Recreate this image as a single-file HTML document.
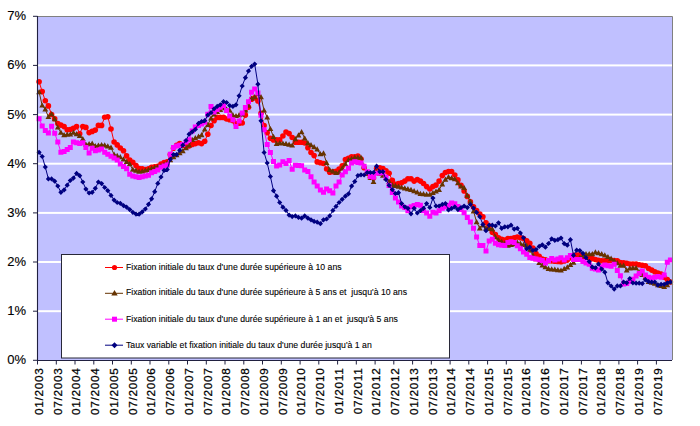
<!DOCTYPE html>
<html><head><meta charset="utf-8"><style>
html,body{margin:0;padding:0;background:#fff;width:700px;height:426px;overflow:hidden}
svg{display:block}
text{white-space:pre}
</style></head><body>
<svg width="700" height="426" viewBox="0 0 700 426">
<rect x="37" y="16" width="635" height="344.5" fill="#C0C0FF"/>
<rect x="37.5" y="310.2" width="634.5" height="2" fill="#fff"/><rect x="37.5" y="261.0" width="634.5" height="2" fill="#fff"/><rect x="37.5" y="211.9" width="634.5" height="2" fill="#fff"/><rect x="37.5" y="162.7" width="634.5" height="2" fill="#fff"/><rect x="37.5" y="113.6" width="634.5" height="2" fill="#fff"/><rect x="37.5" y="64.4" width="634.5" height="2" fill="#fff"/>
<g fill="none" stroke-width="1" shape-rendering="auto">
<polyline points="39.1,81.8 42.2,91.6 45.3,100.7 48.4,105.9 51.6,114.5 54.7,118.8 57.8,123.5 60.9,125.1 64.1,126.6 67.2,129.8 70.3,129.5 73.4,128.2 76.6,126.6 79.7,133.7 82.8,126.6 85.9,127.4 89.1,132.6 92.2,131.4 95.3,130.1 98.4,125.4 101.6,125.4 104.7,117.2 107.8,116.7 111.0,129.0 114.1,142.0 117.2,144.9 120.3,148.0 123.5,150.7 126.6,155.9 129.7,160.1 132.8,162.2 136.0,165.6 139.1,168.5 142.2,168.8 145.3,169.6 148.5,168.8 151.6,167.2 154.7,166.8 157.8,166.4 161.0,164.1 164.1,162.5 167.2,161.7 170.3,154.6 173.5,148.3 176.6,145.2 179.7,143.6 182.8,145.2 186.0,146.8 189.1,146.0 192.2,144.4 195.3,143.6 198.5,142.8 201.6,143.6 204.7,141.2 207.8,134.2 211.0,125.5 214.1,120.8 217.2,117.4 220.3,117.4 223.5,117.4 226.6,119.0 229.7,119.8 232.9,120.6 236.0,123.7 239.1,123.3 242.2,123.0 245.4,115.1 248.5,107.2 251.6,99.3 254.7,97.8 257.9,100.9 261.0,113.2 264.1,125.5 267.2,132.8 270.4,138.3 273.5,139.9 276.6,139.9 279.7,139.9 282.9,136.0 286.0,132.0 289.1,133.6 292.2,137.5 295.4,142.3 298.5,142.3 301.6,142.3 304.7,143.0 307.9,147.8 311.0,152.5 314.1,155.6 317.2,161.9 320.4,162.7 323.5,163.5 326.6,169.0 329.7,172.2 332.9,171.8 336.0,171.4 339.1,169.0 342.2,165.9 345.4,159.6 348.5,158.2 351.6,156.8 354.8,156.8 357.9,156.0 361.0,159.1 364.1,167.8 367.3,173.3 370.4,177.2 373.5,178.0 376.6,168.6 379.8,167.8 382.9,168.6 386.0,170.9 389.1,173.3 392.3,180.4 395.4,184.3 398.5,183.5 401.6,182.7 404.8,181.1 407.9,178.8 411.0,178.8 414.1,181.1 417.3,179.6 420.4,181.1 423.5,183.5 426.6,186.6 429.8,189.0 432.9,186.6 436.0,185.1 439.1,181.1 442.3,175.6 445.4,172.5 448.5,171.5 451.6,171.5 454.8,175.0 457.9,179.9 461.0,185.4 464.1,190.9 467.3,196.4 470.4,201.9 473.5,206.9 476.6,210.5 479.8,214.0 482.9,216.8 486.0,222.8 489.2,226.0 492.3,232.3 495.4,234.6 498.5,237.8 501.7,239.3 504.8,240.1 507.9,238.6 511.0,238.6 514.2,237.8 517.3,237.0 520.4,237.8 523.5,238.6 526.7,240.9 529.8,243.3 532.9,248.0 536.0,253.5 539.2,256.2 542.3,259.0 545.4,259.9 548.5,260.8 551.7,261.0 554.8,261.2 557.9,261.4 561.0,261.7 564.2,260.9 567.3,260.1 570.4,257.8 573.5,255.4 576.7,255.1 579.8,254.8 582.9,256.5 586.0,257.1 589.2,257.8 592.3,258.6 595.4,259.5 598.5,260.4 601.7,260.8 604.8,260.8 607.9,260.8 611.1,260.4 614.2,260.6 617.3,260.8 620.4,262.5 623.6,262.9 626.7,263.3 629.8,264.0 632.9,264.0 636.1,264.0 639.2,264.8 642.3,265.3 645.4,265.8 648.6,268.5 651.7,270.1 654.8,271.8 657.9,273.0 661.1,274.1 664.2,277.3 667.3,279.6 670.4,282.0" stroke="#FF0000"/>
</g>
<g fill="#FF0000"><circle cx="39.1" cy="81.8" r="2.8"/><circle cx="42.2" cy="91.6" r="2.8"/><circle cx="45.3" cy="100.7" r="2.8"/><circle cx="48.4" cy="105.9" r="2.8"/><circle cx="51.6" cy="114.5" r="2.8"/><circle cx="54.7" cy="118.8" r="2.8"/><circle cx="57.8" cy="123.5" r="2.8"/><circle cx="60.9" cy="125.1" r="2.8"/><circle cx="64.1" cy="126.6" r="2.8"/><circle cx="67.2" cy="129.8" r="2.8"/><circle cx="70.3" cy="129.5" r="2.8"/><circle cx="73.4" cy="128.2" r="2.8"/><circle cx="76.6" cy="126.6" r="2.8"/><circle cx="79.7" cy="133.7" r="2.8"/><circle cx="82.8" cy="126.6" r="2.8"/><circle cx="85.9" cy="127.4" r="2.8"/><circle cx="89.1" cy="132.6" r="2.8"/><circle cx="92.2" cy="131.4" r="2.8"/><circle cx="95.3" cy="130.1" r="2.8"/><circle cx="98.4" cy="125.4" r="2.8"/><circle cx="101.6" cy="125.4" r="2.8"/><circle cx="104.7" cy="117.2" r="2.8"/><circle cx="107.8" cy="116.7" r="2.8"/><circle cx="111.0" cy="129.0" r="2.8"/><circle cx="114.1" cy="142.0" r="2.8"/><circle cx="117.2" cy="144.9" r="2.8"/><circle cx="120.3" cy="148.0" r="2.8"/><circle cx="123.5" cy="150.7" r="2.8"/><circle cx="126.6" cy="155.9" r="2.8"/><circle cx="129.7" cy="160.1" r="2.8"/><circle cx="132.8" cy="162.2" r="2.8"/><circle cx="136.0" cy="165.6" r="2.8"/><circle cx="139.1" cy="168.5" r="2.8"/><circle cx="142.2" cy="168.8" r="2.8"/><circle cx="145.3" cy="169.6" r="2.8"/><circle cx="148.5" cy="168.8" r="2.8"/><circle cx="151.6" cy="167.2" r="2.8"/><circle cx="154.7" cy="166.8" r="2.8"/><circle cx="157.8" cy="166.4" r="2.8"/><circle cx="161.0" cy="164.1" r="2.8"/><circle cx="164.1" cy="162.5" r="2.8"/><circle cx="167.2" cy="161.7" r="2.8"/><circle cx="170.3" cy="154.6" r="2.8"/><circle cx="173.5" cy="148.3" r="2.8"/><circle cx="176.6" cy="145.2" r="2.8"/><circle cx="179.7" cy="143.6" r="2.8"/><circle cx="182.8" cy="145.2" r="2.8"/><circle cx="186.0" cy="146.8" r="2.8"/><circle cx="189.1" cy="146.0" r="2.8"/><circle cx="192.2" cy="144.4" r="2.8"/><circle cx="195.3" cy="143.6" r="2.8"/><circle cx="198.5" cy="142.8" r="2.8"/><circle cx="201.6" cy="143.6" r="2.8"/><circle cx="204.7" cy="141.2" r="2.8"/><circle cx="207.8" cy="134.2" r="2.8"/><circle cx="211.0" cy="125.5" r="2.8"/><circle cx="214.1" cy="120.8" r="2.8"/><circle cx="217.2" cy="117.4" r="2.8"/><circle cx="220.3" cy="117.4" r="2.8"/><circle cx="223.5" cy="117.4" r="2.8"/><circle cx="226.6" cy="119.0" r="2.8"/><circle cx="229.7" cy="119.8" r="2.8"/><circle cx="232.9" cy="120.6" r="2.8"/><circle cx="236.0" cy="123.7" r="2.8"/><circle cx="239.1" cy="123.3" r="2.8"/><circle cx="242.2" cy="123.0" r="2.8"/><circle cx="245.4" cy="115.1" r="2.8"/><circle cx="248.5" cy="107.2" r="2.8"/><circle cx="251.6" cy="99.3" r="2.8"/><circle cx="254.7" cy="97.8" r="2.8"/><circle cx="257.9" cy="100.9" r="2.8"/><circle cx="261.0" cy="113.2" r="2.8"/><circle cx="264.1" cy="125.5" r="2.8"/><circle cx="267.2" cy="132.8" r="2.8"/><circle cx="270.4" cy="138.3" r="2.8"/><circle cx="273.5" cy="139.9" r="2.8"/><circle cx="276.6" cy="139.9" r="2.8"/><circle cx="279.7" cy="139.9" r="2.8"/><circle cx="282.9" cy="136.0" r="2.8"/><circle cx="286.0" cy="132.0" r="2.8"/><circle cx="289.1" cy="133.6" r="2.8"/><circle cx="292.2" cy="137.5" r="2.8"/><circle cx="295.4" cy="142.3" r="2.8"/><circle cx="298.5" cy="142.3" r="2.8"/><circle cx="301.6" cy="142.3" r="2.8"/><circle cx="304.7" cy="143.0" r="2.8"/><circle cx="307.9" cy="147.8" r="2.8"/><circle cx="311.0" cy="152.5" r="2.8"/><circle cx="314.1" cy="155.6" r="2.8"/><circle cx="317.2" cy="161.9" r="2.8"/><circle cx="320.4" cy="162.7" r="2.8"/><circle cx="323.5" cy="163.5" r="2.8"/><circle cx="326.6" cy="169.0" r="2.8"/><circle cx="329.7" cy="172.2" r="2.8"/><circle cx="332.9" cy="171.8" r="2.8"/><circle cx="336.0" cy="171.4" r="2.8"/><circle cx="339.1" cy="169.0" r="2.8"/><circle cx="342.2" cy="165.9" r="2.8"/><circle cx="345.4" cy="159.6" r="2.8"/><circle cx="348.5" cy="158.2" r="2.8"/><circle cx="351.6" cy="156.8" r="2.8"/><circle cx="354.8" cy="156.8" r="2.8"/><circle cx="357.9" cy="156.0" r="2.8"/><circle cx="361.0" cy="159.1" r="2.8"/><circle cx="364.1" cy="167.8" r="2.8"/><circle cx="367.3" cy="173.3" r="2.8"/><circle cx="370.4" cy="177.2" r="2.8"/><circle cx="373.5" cy="178.0" r="2.8"/><circle cx="376.6" cy="168.6" r="2.8"/><circle cx="379.8" cy="167.8" r="2.8"/><circle cx="382.9" cy="168.6" r="2.8"/><circle cx="386.0" cy="170.9" r="2.8"/><circle cx="389.1" cy="173.3" r="2.8"/><circle cx="392.3" cy="180.4" r="2.8"/><circle cx="395.4" cy="184.3" r="2.8"/><circle cx="398.5" cy="183.5" r="2.8"/><circle cx="401.6" cy="182.7" r="2.8"/><circle cx="404.8" cy="181.1" r="2.8"/><circle cx="407.9" cy="178.8" r="2.8"/><circle cx="411.0" cy="178.8" r="2.8"/><circle cx="414.1" cy="181.1" r="2.8"/><circle cx="417.3" cy="179.6" r="2.8"/><circle cx="420.4" cy="181.1" r="2.8"/><circle cx="423.5" cy="183.5" r="2.8"/><circle cx="426.6" cy="186.6" r="2.8"/><circle cx="429.8" cy="189.0" r="2.8"/><circle cx="432.9" cy="186.6" r="2.8"/><circle cx="436.0" cy="185.1" r="2.8"/><circle cx="439.1" cy="181.1" r="2.8"/><circle cx="442.3" cy="175.6" r="2.8"/><circle cx="445.4" cy="172.5" r="2.8"/><circle cx="448.5" cy="171.5" r="2.8"/><circle cx="451.6" cy="171.5" r="2.8"/><circle cx="454.8" cy="175.0" r="2.8"/><circle cx="457.9" cy="179.9" r="2.8"/><circle cx="461.0" cy="185.4" r="2.8"/><circle cx="464.1" cy="190.9" r="2.8"/><circle cx="467.3" cy="196.4" r="2.8"/><circle cx="470.4" cy="201.9" r="2.8"/><circle cx="473.5" cy="206.9" r="2.8"/><circle cx="476.6" cy="210.5" r="2.8"/><circle cx="479.8" cy="214.0" r="2.8"/><circle cx="482.9" cy="216.8" r="2.8"/><circle cx="486.0" cy="222.8" r="2.8"/><circle cx="489.2" cy="226.0" r="2.8"/><circle cx="492.3" cy="232.3" r="2.8"/><circle cx="495.4" cy="234.6" r="2.8"/><circle cx="498.5" cy="237.8" r="2.8"/><circle cx="501.7" cy="239.3" r="2.8"/><circle cx="504.8" cy="240.1" r="2.8"/><circle cx="507.9" cy="238.6" r="2.8"/><circle cx="511.0" cy="238.6" r="2.8"/><circle cx="514.2" cy="237.8" r="2.8"/><circle cx="517.3" cy="237.0" r="2.8"/><circle cx="520.4" cy="237.8" r="2.8"/><circle cx="523.5" cy="238.6" r="2.8"/><circle cx="526.7" cy="240.9" r="2.8"/><circle cx="529.8" cy="243.3" r="2.8"/><circle cx="532.9" cy="248.0" r="2.8"/><circle cx="536.0" cy="253.5" r="2.8"/><circle cx="539.2" cy="256.2" r="2.8"/><circle cx="542.3" cy="259.0" r="2.8"/><circle cx="545.4" cy="259.9" r="2.8"/><circle cx="548.5" cy="260.8" r="2.8"/><circle cx="551.7" cy="261.0" r="2.8"/><circle cx="554.8" cy="261.2" r="2.8"/><circle cx="557.9" cy="261.4" r="2.8"/><circle cx="561.0" cy="261.7" r="2.8"/><circle cx="564.2" cy="260.9" r="2.8"/><circle cx="567.3" cy="260.1" r="2.8"/><circle cx="570.4" cy="257.8" r="2.8"/><circle cx="573.5" cy="255.4" r="2.8"/><circle cx="576.7" cy="255.1" r="2.8"/><circle cx="579.8" cy="254.8" r="2.8"/><circle cx="582.9" cy="256.5" r="2.8"/><circle cx="586.0" cy="257.1" r="2.8"/><circle cx="589.2" cy="257.8" r="2.8"/><circle cx="592.3" cy="258.6" r="2.8"/><circle cx="595.4" cy="259.5" r="2.8"/><circle cx="598.5" cy="260.4" r="2.8"/><circle cx="601.7" cy="260.8" r="2.8"/><circle cx="604.8" cy="260.8" r="2.8"/><circle cx="607.9" cy="260.8" r="2.8"/><circle cx="611.1" cy="260.4" r="2.8"/><circle cx="614.2" cy="260.6" r="2.8"/><circle cx="617.3" cy="260.8" r="2.8"/><circle cx="620.4" cy="262.5" r="2.8"/><circle cx="623.6" cy="262.9" r="2.8"/><circle cx="626.7" cy="263.3" r="2.8"/><circle cx="629.8" cy="264.0" r="2.8"/><circle cx="632.9" cy="264.0" r="2.8"/><circle cx="636.1" cy="264.0" r="2.8"/><circle cx="639.2" cy="264.8" r="2.8"/><circle cx="642.3" cy="265.3" r="2.8"/><circle cx="645.4" cy="265.8" r="2.8"/><circle cx="648.6" cy="268.5" r="2.8"/><circle cx="651.7" cy="270.1" r="2.8"/><circle cx="654.8" cy="271.8" r="2.8"/><circle cx="657.9" cy="273.0" r="2.8"/><circle cx="661.1" cy="274.1" r="2.8"/><circle cx="664.2" cy="277.3" r="2.8"/><circle cx="667.3" cy="279.6" r="2.8"/><circle cx="670.4" cy="282.0" r="2.8"/></g>
<polyline points="39.1,92.0 42.2,105.4 45.3,109.3 48.4,116.9 51.6,114.1 54.7,119.1 57.8,127.4 60.9,132.6 64.1,135.0 67.2,134.6 70.3,134.2 73.4,132.6 76.6,134.1 79.7,135.7 82.8,138.9 85.9,144.4 89.1,144.0 92.2,143.6 95.3,146.0 98.4,145.4 101.6,144.9 104.7,145.2 107.8,146.3 111.0,147.5 114.1,154.6 117.2,155.8 120.3,157.0 123.5,159.3 126.6,161.7 129.7,164.1 132.8,169.6 136.0,170.6 139.1,171.6 142.2,171.2 145.3,170.4 148.5,169.7 151.6,168.5 154.7,167.7 157.8,166.8 161.0,166.0 164.1,164.5 167.2,163.0 170.3,160.0 173.5,157.0 176.6,155.0 179.7,153.0 182.8,151.0 186.0,148.1 189.1,145.2 192.2,139.7 195.3,138.1 198.5,136.5 201.6,135.0 204.7,129.4 207.8,124.7 211.0,118.2 214.1,114.3 217.2,111.9 220.3,110.0 223.5,108.0 226.6,109.2 229.7,110.4 232.9,115.1 236.0,115.9 239.1,115.1 242.2,114.3 245.4,110.4 248.5,105.6 251.6,98.6 254.7,97.0 257.9,93.8 261.0,97.0 264.1,110.4 267.2,117.4 270.4,128.9 273.5,136.8 276.6,143.8 279.7,143.0 282.9,143.4 286.0,143.8 289.1,144.6 292.2,145.4 295.4,139.1 298.5,135.2 301.6,132.0 304.7,138.3 307.9,143.0 311.0,145.0 314.1,147.0 317.2,149.3 320.4,154.1 323.5,153.3 326.6,162.7 329.7,169.8 332.9,171.4 336.0,172.9 339.1,172.2 342.2,168.2 345.4,164.1 348.5,159.9 351.6,158.7 354.8,157.5 357.9,157.5 361.0,157.5 364.1,166.2 367.3,173.3 370.4,177.6 373.5,181.9 376.6,171.7 379.8,173.6 382.9,175.6 386.0,178.0 389.1,181.6 392.3,185.1 395.4,185.8 398.5,186.6 401.6,187.4 404.8,188.2 407.9,189.0 411.0,189.8 414.1,191.0 417.3,192.2 420.4,193.7 423.5,194.1 426.6,194.5 429.8,194.5 432.9,192.9 436.0,191.4 439.1,189.8 442.3,184.3 445.4,179.6 448.5,177.0 451.6,178.1 454.8,179.1 457.9,183.0 461.0,186.2 464.1,187.8 467.3,195.6 470.4,201.4 473.5,211.2 476.6,222.0 479.8,228.3 482.9,225.2 486.0,228.3 489.2,228.7 492.3,229.1 495.4,237.0 498.5,240.1 501.7,241.7 504.8,243.3 507.9,245.6 511.0,244.8 514.2,244.1 517.3,242.5 520.4,243.7 523.5,244.8 526.7,245.6 529.8,250.3 532.9,255.1 536.0,259.0 539.2,262.9 542.3,265.3 545.4,267.1 548.5,268.8 551.7,269.2 554.8,269.6 557.9,270.0 561.0,270.4 564.2,268.8 567.3,267.2 570.4,264.9 573.5,262.5 576.7,259.3 579.8,257.7 582.9,256.1 586.0,254.1 589.2,254.1 592.3,254.0 595.4,252.2 598.5,253.1 601.7,254.1 604.8,255.3 607.9,256.9 611.1,258.5 614.2,260.8 617.3,263.1 620.4,265.5 623.6,265.5 626.7,270.3 629.8,268.3 632.9,268.1 636.1,268.0 639.2,272.2 642.3,274.8 645.4,277.3 648.6,281.7 651.7,282.6 654.8,283.6 657.9,285.1 661.1,285.9 664.2,286.7 667.3,285.1 670.4,282.0" stroke="#663300" fill="none"/>
<path fill="#663300" d="M36.2,94.2L39.1,89.0L42.0,94.2ZM39.3,107.6L42.2,102.4L45.1,107.6ZM42.4,111.5L45.3,106.3L48.2,111.5ZM45.5,119.1L48.4,113.9L51.3,119.1ZM48.7,116.3L51.6,111.1L54.5,116.3ZM51.8,121.3L54.7,116.1L57.6,121.3ZM54.9,129.6L57.8,124.4L60.7,129.6ZM58.0,134.8L60.9,129.6L63.8,134.8ZM61.2,137.2L64.1,132.0L67.0,137.2ZM64.3,136.8L67.2,131.6L70.1,136.8ZM67.4,136.4L70.3,131.2L73.2,136.4ZM70.5,134.8L73.4,129.6L76.3,134.8ZM73.7,136.3L76.6,131.1L79.5,136.3ZM76.8,137.9L79.7,132.7L82.6,137.9ZM79.9,141.1L82.8,135.9L85.7,141.1ZM83.0,146.6L85.9,141.4L88.8,146.6ZM86.2,146.2L89.1,141.0L92.0,146.2ZM89.3,145.8L92.2,140.6L95.1,145.8ZM92.4,148.2L95.3,143.0L98.2,148.2ZM95.5,147.6L98.4,142.4L101.3,147.6ZM98.7,147.1L101.6,141.9L104.5,147.1ZM101.8,147.4L104.7,142.2L107.6,147.4ZM104.9,148.5L107.8,143.3L110.7,148.5ZM108.1,149.7L111.0,144.5L113.9,149.7ZM111.2,156.8L114.1,151.6L117.0,156.8ZM114.3,158.0L117.2,152.8L120.1,158.0ZM117.4,159.2L120.3,154.0L123.2,159.2ZM120.6,161.5L123.5,156.3L126.4,161.5ZM123.7,163.9L126.6,158.7L129.5,163.9ZM126.8,166.3L129.7,161.1L132.6,166.3ZM129.9,171.8L132.8,166.6L135.7,171.8ZM133.1,172.8L136.0,167.6L138.9,172.8ZM136.2,173.8L139.1,168.6L142.0,173.8ZM139.3,173.4L142.2,168.2L145.1,173.4ZM142.4,172.6L145.3,167.4L148.2,172.6ZM145.6,171.9L148.5,166.7L151.4,171.9ZM148.7,170.7L151.6,165.5L154.5,170.7ZM151.8,169.8L154.7,164.6L157.6,169.8ZM154.9,169.0L157.8,163.8L160.7,169.0ZM158.1,168.2L161.0,163.0L163.9,168.2ZM161.2,166.7L164.1,161.5L167.0,166.7ZM164.3,165.2L167.2,160.0L170.1,165.2ZM167.4,162.2L170.3,157.0L173.2,162.2ZM170.6,159.2L173.5,154.0L176.4,159.2ZM173.7,157.2L176.6,152.0L179.5,157.2ZM176.8,155.2L179.7,150.0L182.6,155.2ZM179.9,153.2L182.8,148.0L185.7,153.2ZM183.1,150.3L186.0,145.1L188.9,150.3ZM186.2,147.4L189.1,142.2L192.0,147.4ZM189.3,141.9L192.2,136.7L195.1,141.9ZM192.4,140.3L195.3,135.1L198.2,140.3ZM195.6,138.7L198.5,133.5L201.4,138.7ZM198.7,137.2L201.6,132.0L204.5,137.2ZM201.8,131.6L204.7,126.4L207.6,131.6ZM204.9,126.9L207.8,121.7L210.7,126.9ZM208.1,120.4L211.0,115.2L213.9,120.4ZM211.2,116.5L214.1,111.3L217.0,116.5ZM214.3,114.1L217.2,108.9L220.1,114.1ZM217.4,112.1L220.3,106.9L223.2,112.1ZM220.6,110.2L223.5,105.0L226.4,110.2ZM223.7,111.4L226.6,106.2L229.5,111.4ZM226.8,112.6L229.7,107.4L232.6,112.6ZM230.0,117.3L232.9,112.1L235.8,117.3ZM233.1,118.1L236.0,112.9L238.9,118.1ZM236.2,117.3L239.1,112.1L242.0,117.3ZM239.3,116.5L242.2,111.3L245.1,116.5ZM242.5,112.6L245.4,107.4L248.3,112.6ZM245.6,107.8L248.5,102.6L251.4,107.8ZM248.7,100.8L251.6,95.6L254.5,100.8ZM251.8,99.2L254.7,94.0L257.6,99.2ZM255.0,96.0L257.9,90.8L260.8,96.0ZM258.1,99.2L261.0,94.0L263.9,99.2ZM261.2,112.6L264.1,107.4L267.0,112.6ZM264.3,119.6L267.2,114.4L270.1,119.6ZM267.5,131.1L270.4,125.9L273.3,131.1ZM270.6,139.0L273.5,133.8L276.4,139.0ZM273.7,146.0L276.6,140.8L279.5,146.0ZM276.8,145.2L279.7,140.0L282.6,145.2ZM280.0,145.6L282.9,140.4L285.8,145.6ZM283.1,146.0L286.0,140.8L288.9,146.0ZM286.2,146.8L289.1,141.6L292.0,146.8ZM289.3,147.6L292.2,142.4L295.1,147.6ZM292.5,141.3L295.4,136.1L298.3,141.3ZM295.6,137.4L298.5,132.2L301.4,137.4ZM298.7,134.2L301.6,129.0L304.5,134.2ZM301.8,140.5L304.7,135.3L307.6,140.5ZM305.0,145.2L307.9,140.0L310.8,145.2ZM308.1,147.2L311.0,142.0L313.9,147.2ZM311.2,149.2L314.1,144.0L317.0,149.2ZM314.3,151.5L317.2,146.3L320.1,151.5ZM317.5,156.3L320.4,151.1L323.3,156.3ZM320.6,155.5L323.5,150.3L326.4,155.5ZM323.7,164.9L326.6,159.7L329.5,164.9ZM326.8,172.0L329.7,166.8L332.6,172.0ZM330.0,173.5L332.9,168.3L335.8,173.5ZM333.1,175.1L336.0,169.9L338.9,175.1ZM336.2,174.4L339.1,169.2L342.0,174.4ZM339.3,170.4L342.2,165.2L345.1,170.4ZM342.5,166.2L345.4,161.0L348.3,166.2ZM345.6,162.1L348.5,156.9L351.4,162.1ZM348.7,160.9L351.6,155.7L354.5,160.9ZM351.9,159.7L354.8,154.5L357.6,159.7ZM355.0,159.7L357.9,154.5L360.8,159.7ZM358.1,159.7L361.0,154.5L363.9,159.7ZM361.2,168.4L364.1,163.2L367.0,168.4ZM364.4,175.5L367.3,170.3L370.2,175.5ZM367.5,179.8L370.4,174.6L373.3,179.8ZM370.6,184.1L373.5,178.9L376.4,184.1ZM373.7,173.9L376.6,168.7L379.5,173.9ZM376.9,175.8L379.8,170.6L382.7,175.8ZM380.0,177.8L382.9,172.6L385.8,177.8ZM383.1,180.2L386.0,175.0L388.9,180.2ZM386.2,183.7L389.1,178.5L392.0,183.7ZM389.4,187.3L392.3,182.1L395.2,187.3ZM392.5,188.0L395.4,182.8L398.3,188.0ZM395.6,188.8L398.5,183.6L401.4,188.8ZM398.7,189.6L401.6,184.4L404.5,189.6ZM401.9,190.4L404.8,185.2L407.7,190.4ZM405.0,191.2L407.9,186.0L410.8,191.2ZM408.1,192.0L411.0,186.8L413.9,192.0ZM411.2,193.2L414.1,188.0L417.0,193.2ZM414.4,194.4L417.3,189.2L420.2,194.4ZM417.5,195.9L420.4,190.7L423.3,195.9ZM420.6,196.3L423.5,191.1L426.4,196.3ZM423.7,196.7L426.6,191.5L429.5,196.7ZM426.9,196.7L429.8,191.5L432.7,196.7ZM430.0,195.1L432.9,189.9L435.8,195.1ZM433.1,193.6L436.0,188.4L438.9,193.6ZM436.2,192.0L439.1,186.8L442.0,192.0ZM439.4,186.5L442.3,181.3L445.2,186.5ZM442.5,181.8L445.4,176.6L448.3,181.8ZM445.6,179.2L448.5,174.0L451.4,179.2ZM448.7,180.2L451.6,175.0L454.5,180.2ZM451.9,181.3L454.8,176.1L457.7,181.3ZM455.0,185.2L457.9,180.0L460.8,185.2ZM458.1,188.4L461.0,183.2L463.9,188.4ZM461.2,190.0L464.1,184.8L467.0,190.0ZM464.4,197.8L467.3,192.6L470.2,197.8ZM467.5,203.6L470.4,198.4L473.3,203.6ZM470.6,213.4L473.5,208.2L476.4,213.4ZM473.7,224.2L476.6,219.0L479.5,224.2ZM476.9,230.5L479.8,225.3L482.7,230.5ZM480.0,227.4L482.9,222.2L485.8,227.4ZM483.1,230.5L486.0,225.3L488.9,230.5ZM486.3,230.9L489.2,225.7L492.1,230.9ZM489.4,231.3L492.3,226.1L495.2,231.3ZM492.5,239.2L495.4,234.0L498.3,239.2ZM495.6,242.3L498.5,237.1L501.4,242.3ZM498.8,243.9L501.7,238.7L504.6,243.9ZM501.9,245.5L504.8,240.3L507.7,245.5ZM505.0,247.8L507.9,242.6L510.8,247.8ZM508.1,247.0L511.0,241.8L513.9,247.0ZM511.3,246.3L514.2,241.1L517.1,246.3ZM514.4,244.7L517.3,239.5L520.2,244.7ZM517.5,245.8L520.4,240.6L523.3,245.8ZM520.6,247.0L523.5,241.8L526.4,247.0ZM523.8,247.8L526.7,242.6L529.6,247.8ZM526.9,252.5L529.8,247.3L532.7,252.5ZM530.0,257.3L532.9,252.1L535.8,257.3ZM533.1,261.2L536.0,256.0L538.9,261.2ZM536.3,265.1L539.2,259.9L542.1,265.1ZM539.4,267.5L542.3,262.3L545.2,267.5ZM542.5,269.2L545.4,264.0L548.3,269.2ZM545.6,271.0L548.5,265.8L551.4,271.0ZM548.8,271.4L551.7,266.2L554.6,271.4ZM551.9,271.8L554.8,266.6L557.7,271.8ZM555.0,272.2L557.9,267.0L560.8,272.2ZM558.1,272.6L561.0,267.4L563.9,272.6ZM561.3,271.0L564.2,265.8L567.1,271.0ZM564.4,269.4L567.3,264.2L570.2,269.4ZM567.5,267.0L570.4,261.8L573.3,267.0ZM570.6,264.7L573.5,259.5L576.4,264.7ZM573.8,261.5L576.7,256.3L579.6,261.5ZM576.9,259.9L579.8,254.7L582.7,259.9ZM580.0,258.3L582.9,253.1L585.8,258.3ZM583.1,256.3L586.0,251.1L588.9,256.3ZM586.3,256.2L589.2,251.0L592.1,256.2ZM589.4,256.2L592.3,251.0L595.2,256.2ZM592.5,254.4L595.4,249.2L598.3,254.4ZM595.6,255.3L598.5,250.1L601.4,255.3ZM598.8,256.3L601.7,251.1L604.6,256.3ZM601.9,257.5L604.8,252.3L607.7,257.5ZM605.0,259.1L607.9,253.9L610.8,259.1ZM608.2,260.7L611.1,255.5L614.0,260.7ZM611.3,263.0L614.2,257.8L617.1,263.0ZM614.4,265.3L617.3,260.1L620.2,265.3ZM617.5,267.7L620.4,262.5L623.3,267.7ZM620.7,267.7L623.6,262.5L626.5,267.7ZM623.8,272.5L626.7,267.3L629.6,272.5ZM626.9,270.5L629.8,265.3L632.7,270.5ZM630.0,270.3L632.9,265.1L635.8,270.3ZM633.2,270.2L636.1,265.0L639.0,270.2ZM636.3,274.4L639.2,269.2L642.1,274.4ZM639.4,276.9L642.3,271.7L645.2,276.9ZM642.5,279.5L645.4,274.3L648.3,279.5ZM645.7,283.9L648.6,278.7L651.5,283.9ZM648.8,284.8L651.7,279.6L654.6,284.8ZM651.9,285.8L654.8,280.6L657.7,285.8ZM655.0,287.3L657.9,282.1L660.8,287.3ZM658.2,288.1L661.1,282.9L664.0,288.1ZM661.3,288.9L664.2,283.7L667.1,288.9ZM664.4,287.3L667.3,282.1L670.2,287.3ZM667.5,284.2L670.4,279.0L673.3,284.2Z"/>
<polyline points="39.1,118.8 42.2,125.9 45.3,130.5 48.4,133.0 51.6,126.3 54.7,133.2 57.8,142.0 60.9,152.3 64.1,151.5 67.2,149.5 70.3,147.5 73.4,142.0 76.6,142.8 79.7,143.6 82.8,142.8 85.9,147.5 89.1,153.0 92.2,148.3 95.3,150.7 98.4,149.9 101.6,149.1 104.7,152.3 107.8,154.2 111.0,156.2 114.1,158.1 117.2,160.1 120.3,164.1 123.5,166.4 126.6,168.8 129.7,174.3 132.8,176.0 136.0,176.8 139.1,177.5 142.2,176.8 145.3,176.0 148.5,175.2 151.6,172.8 154.7,171.4 157.8,170.0 161.0,167.2 164.1,166.1 167.2,165.0 170.3,154.3 173.5,147.5 176.6,146.0 179.7,145.2 182.8,144.4 186.0,142.1 189.1,139.7 192.2,131.0 195.3,127.1 198.5,125.5 201.6,123.9 204.7,122.2 207.8,114.3 211.0,106.4 214.1,111.9 217.2,109.6 220.3,107.2 223.5,105.6 226.6,110.4 229.7,115.9 232.9,119.8 236.0,126.5 239.1,121.0 242.2,113.0 245.4,107.6 248.5,101.7 251.6,92.3 254.7,89.1 257.9,93.0 261.0,115.3 264.1,129.7 267.2,144.6 270.4,152.5 273.5,161.4 276.6,166.1 279.7,165.1 282.9,161.7 286.0,163.5 289.1,160.6 292.2,169.2 295.4,165.3 298.5,165.5 301.6,165.7 304.7,170.0 307.9,171.6 311.0,176.7 314.1,182.0 317.2,186.0 320.4,189.9 323.5,192.3 326.6,189.1 329.7,190.7 332.9,193.0 336.0,186.0 339.1,182.0 342.2,175.0 345.4,171.8 348.5,168.2 351.6,163.0 354.8,161.8 357.9,162.4 361.0,163.0 364.1,166.2 367.3,171.7 370.4,176.4 373.5,177.2 376.6,173.3 379.8,172.9 382.9,172.5 386.0,177.2 389.1,185.5 392.3,192.5 395.4,198.0 398.5,202.0 401.6,206.0 404.8,207.5 407.9,210.7 411.0,206.8 414.1,205.6 417.3,204.4 420.4,205.2 423.5,210.7 426.6,213.0 429.8,216.2 432.9,212.3 436.0,213.0 439.1,210.7 442.3,208.3 445.4,206.8 448.5,205.2 451.6,202.9 454.8,203.7 457.9,206.4 461.0,209.6 464.1,212.7 467.3,217.5 470.4,222.0 473.5,228.3 476.6,237.0 479.8,245.6 482.9,245.6 486.0,251.1 489.2,240.9 492.3,239.3 495.4,243.3 498.5,244.8 501.7,245.2 504.8,245.6 507.9,242.5 511.0,241.7 514.2,242.5 517.3,245.7 520.4,248.8 523.5,252.0 526.7,254.3 529.8,257.4 532.9,258.2 536.0,259.0 539.2,259.8 542.3,260.6 545.4,262.9 548.5,260.6 551.7,258.4 554.8,260.0 557.9,258.9 561.0,257.8 564.2,260.1 567.3,257.8 570.4,255.4 573.5,259.6 576.7,259.6 579.8,259.6 582.9,261.6 586.0,263.0 589.2,264.3 592.3,268.3 595.4,269.1 598.5,269.9 601.7,266.7 604.8,265.1 607.9,265.7 611.1,266.3 614.2,264.3 617.3,270.6 620.4,275.8 623.6,284.0 626.7,283.6 629.8,281.5 632.9,279.3 636.1,276.1 639.2,273.6 642.3,271.1 645.4,275.0 648.6,277.3 651.7,278.0 654.8,277.2 657.9,276.5 661.1,277.3 664.2,274.9 667.3,262.3 670.4,260.0" stroke="#FF00FF" fill="none"/>
<path fill="#FF00FF" d="M36.6,116.3h5.0v5.0h-5.0ZM39.7,123.4h5.0v5.0h-5.0ZM42.8,128.0h5.0v5.0h-5.0ZM45.9,130.5h5.0v5.0h-5.0ZM49.1,123.8h5.0v5.0h-5.0ZM52.2,130.7h5.0v5.0h-5.0ZM55.3,139.5h5.0v5.0h-5.0ZM58.4,149.8h5.0v5.0h-5.0ZM61.6,149.0h5.0v5.0h-5.0ZM64.7,147.0h5.0v5.0h-5.0ZM67.8,145.0h5.0v5.0h-5.0ZM70.9,139.5h5.0v5.0h-5.0ZM74.1,140.3h5.0v5.0h-5.0ZM77.2,141.1h5.0v5.0h-5.0ZM80.3,140.3h5.0v5.0h-5.0ZM83.4,145.0h5.0v5.0h-5.0ZM86.6,150.5h5.0v5.0h-5.0ZM89.7,145.8h5.0v5.0h-5.0ZM92.8,148.2h5.0v5.0h-5.0ZM95.9,147.4h5.0v5.0h-5.0ZM99.1,146.6h5.0v5.0h-5.0ZM102.2,149.8h5.0v5.0h-5.0ZM105.3,151.8h5.0v5.0h-5.0ZM108.5,153.7h5.0v5.0h-5.0ZM111.6,155.6h5.0v5.0h-5.0ZM114.7,157.6h5.0v5.0h-5.0ZM117.8,161.6h5.0v5.0h-5.0ZM121.0,163.9h5.0v5.0h-5.0ZM124.1,166.3h5.0v5.0h-5.0ZM127.2,171.8h5.0v5.0h-5.0ZM130.3,173.5h5.0v5.0h-5.0ZM133.5,174.2h5.0v5.0h-5.0ZM136.6,175.0h5.0v5.0h-5.0ZM139.7,174.3h5.0v5.0h-5.0ZM142.8,173.5h5.0v5.0h-5.0ZM146.0,172.7h5.0v5.0h-5.0ZM149.1,170.3h5.0v5.0h-5.0ZM152.2,168.9h5.0v5.0h-5.0ZM155.3,167.5h5.0v5.0h-5.0ZM158.5,164.7h5.0v5.0h-5.0ZM161.6,163.6h5.0v5.0h-5.0ZM164.7,162.5h5.0v5.0h-5.0ZM167.8,151.8h5.0v5.0h-5.0ZM171.0,145.0h5.0v5.0h-5.0ZM174.1,143.5h5.0v5.0h-5.0ZM177.2,142.7h5.0v5.0h-5.0ZM180.3,141.9h5.0v5.0h-5.0ZM183.5,139.6h5.0v5.0h-5.0ZM186.6,137.2h5.0v5.0h-5.0ZM189.7,128.5h5.0v5.0h-5.0ZM192.8,124.6h5.0v5.0h-5.0ZM196.0,123.0h5.0v5.0h-5.0ZM199.1,121.4h5.0v5.0h-5.0ZM202.2,119.7h5.0v5.0h-5.0ZM205.3,111.8h5.0v5.0h-5.0ZM208.5,103.9h5.0v5.0h-5.0ZM211.6,109.4h5.0v5.0h-5.0ZM214.7,107.1h5.0v5.0h-5.0ZM217.8,104.7h5.0v5.0h-5.0ZM221.0,103.1h5.0v5.0h-5.0ZM224.1,107.9h5.0v5.0h-5.0ZM227.2,113.4h5.0v5.0h-5.0ZM230.4,117.3h5.0v5.0h-5.0ZM233.5,124.0h5.0v5.0h-5.0ZM236.6,118.5h5.0v5.0h-5.0ZM239.7,110.5h5.0v5.0h-5.0ZM242.9,105.1h5.0v5.0h-5.0ZM246.0,99.2h5.0v5.0h-5.0ZM249.1,89.8h5.0v5.0h-5.0ZM252.2,86.6h5.0v5.0h-5.0ZM255.4,90.5h5.0v5.0h-5.0ZM258.5,112.8h5.0v5.0h-5.0ZM261.6,127.2h5.0v5.0h-5.0ZM264.7,142.1h5.0v5.0h-5.0ZM267.9,150.0h5.0v5.0h-5.0ZM271.0,158.9h5.0v5.0h-5.0ZM274.1,163.6h5.0v5.0h-5.0ZM277.2,162.6h5.0v5.0h-5.0ZM280.4,159.2h5.0v5.0h-5.0ZM283.5,161.0h5.0v5.0h-5.0ZM286.6,158.1h5.0v5.0h-5.0ZM289.7,166.7h5.0v5.0h-5.0ZM292.9,162.8h5.0v5.0h-5.0ZM296.0,163.0h5.0v5.0h-5.0ZM299.1,163.2h5.0v5.0h-5.0ZM302.2,167.5h5.0v5.0h-5.0ZM305.4,169.1h5.0v5.0h-5.0ZM308.5,174.2h5.0v5.0h-5.0ZM311.6,179.5h5.0v5.0h-5.0ZM314.7,183.5h5.0v5.0h-5.0ZM317.9,187.4h5.0v5.0h-5.0ZM321.0,189.8h5.0v5.0h-5.0ZM324.1,186.6h5.0v5.0h-5.0ZM327.2,188.2h5.0v5.0h-5.0ZM330.4,190.5h5.0v5.0h-5.0ZM333.5,183.5h5.0v5.0h-5.0ZM336.6,179.5h5.0v5.0h-5.0ZM339.7,172.5h5.0v5.0h-5.0ZM342.9,169.3h5.0v5.0h-5.0ZM346.0,165.7h5.0v5.0h-5.0ZM349.1,160.5h5.0v5.0h-5.0ZM352.2,159.3h5.0v5.0h-5.0ZM355.4,159.9h5.0v5.0h-5.0ZM358.5,160.5h5.0v5.0h-5.0ZM361.6,163.7h5.0v5.0h-5.0ZM364.8,169.2h5.0v5.0h-5.0ZM367.9,173.9h5.0v5.0h-5.0ZM371.0,174.7h5.0v5.0h-5.0ZM374.1,170.8h5.0v5.0h-5.0ZM377.3,170.4h5.0v5.0h-5.0ZM380.4,170.0h5.0v5.0h-5.0ZM383.5,174.7h5.0v5.0h-5.0ZM386.6,183.0h5.0v5.0h-5.0ZM389.8,190.0h5.0v5.0h-5.0ZM392.9,195.5h5.0v5.0h-5.0ZM396.0,199.5h5.0v5.0h-5.0ZM399.1,203.5h5.0v5.0h-5.0ZM402.3,205.0h5.0v5.0h-5.0ZM405.4,208.2h5.0v5.0h-5.0ZM408.5,204.3h5.0v5.0h-5.0ZM411.6,203.1h5.0v5.0h-5.0ZM414.8,201.9h5.0v5.0h-5.0ZM417.9,202.7h5.0v5.0h-5.0ZM421.0,208.2h5.0v5.0h-5.0ZM424.1,210.5h5.0v5.0h-5.0ZM427.3,213.7h5.0v5.0h-5.0ZM430.4,209.8h5.0v5.0h-5.0ZM433.5,210.5h5.0v5.0h-5.0ZM436.6,208.2h5.0v5.0h-5.0ZM439.8,205.8h5.0v5.0h-5.0ZM442.9,204.2h5.0v5.0h-5.0ZM446.0,202.7h5.0v5.0h-5.0ZM449.1,200.4h5.0v5.0h-5.0ZM452.3,201.2h5.0v5.0h-5.0ZM455.4,203.9h5.0v5.0h-5.0ZM458.5,207.1h5.0v5.0h-5.0ZM461.6,210.2h5.0v5.0h-5.0ZM464.8,215.0h5.0v5.0h-5.0ZM467.9,219.5h5.0v5.0h-5.0ZM471.0,225.8h5.0v5.0h-5.0ZM474.1,234.5h5.0v5.0h-5.0ZM477.3,243.1h5.0v5.0h-5.0ZM480.4,243.1h5.0v5.0h-5.0ZM483.5,248.6h5.0v5.0h-5.0ZM486.7,238.4h5.0v5.0h-5.0ZM489.8,236.8h5.0v5.0h-5.0ZM492.9,240.8h5.0v5.0h-5.0ZM496.0,242.3h5.0v5.0h-5.0ZM499.2,242.7h5.0v5.0h-5.0ZM502.3,243.1h5.0v5.0h-5.0ZM505.4,240.0h5.0v5.0h-5.0ZM508.5,239.2h5.0v5.0h-5.0ZM511.7,240.0h5.0v5.0h-5.0ZM514.8,243.2h5.0v5.0h-5.0ZM517.9,246.3h5.0v5.0h-5.0ZM521.0,249.5h5.0v5.0h-5.0ZM524.2,251.8h5.0v5.0h-5.0ZM527.3,254.9h5.0v5.0h-5.0ZM530.4,255.7h5.0v5.0h-5.0ZM533.5,256.5h5.0v5.0h-5.0ZM536.7,257.3h5.0v5.0h-5.0ZM539.8,258.1h5.0v5.0h-5.0ZM542.9,260.4h5.0v5.0h-5.0ZM546.0,258.1h5.0v5.0h-5.0ZM549.2,255.9h5.0v5.0h-5.0ZM552.3,257.5h5.0v5.0h-5.0ZM555.4,256.4h5.0v5.0h-5.0ZM558.5,255.3h5.0v5.0h-5.0ZM561.7,257.6h5.0v5.0h-5.0ZM564.8,255.2h5.0v5.0h-5.0ZM567.9,252.9h5.0v5.0h-5.0ZM571.0,257.1h5.0v5.0h-5.0ZM574.2,257.1h5.0v5.0h-5.0ZM577.3,257.1h5.0v5.0h-5.0ZM580.4,259.1h5.0v5.0h-5.0ZM583.5,260.5h5.0v5.0h-5.0ZM586.7,261.8h5.0v5.0h-5.0ZM589.8,265.8h5.0v5.0h-5.0ZM592.9,266.6h5.0v5.0h-5.0ZM596.0,267.4h5.0v5.0h-5.0ZM599.2,264.2h5.0v5.0h-5.0ZM602.3,262.6h5.0v5.0h-5.0ZM605.4,263.2h5.0v5.0h-5.0ZM608.6,263.8h5.0v5.0h-5.0ZM611.7,261.8h5.0v5.0h-5.0ZM614.8,268.1h5.0v5.0h-5.0ZM617.9,273.3h5.0v5.0h-5.0ZM621.1,281.5h5.0v5.0h-5.0ZM624.2,281.1h5.0v5.0h-5.0ZM627.3,279.0h5.0v5.0h-5.0ZM630.4,276.8h5.0v5.0h-5.0ZM633.6,273.6h5.0v5.0h-5.0ZM636.7,271.1h5.0v5.0h-5.0ZM639.8,268.6h5.0v5.0h-5.0ZM642.9,272.5h5.0v5.0h-5.0ZM646.1,274.8h5.0v5.0h-5.0ZM649.2,275.5h5.0v5.0h-5.0ZM652.3,274.8h5.0v5.0h-5.0ZM655.4,274.0h5.0v5.0h-5.0ZM658.6,274.8h5.0v5.0h-5.0ZM661.7,272.4h5.0v5.0h-5.0ZM664.8,259.8h5.0v5.0h-5.0ZM667.9,257.5h5.0v5.0h-5.0Z"/>
<polyline points="39.1,152.3 42.2,156.5 45.3,167.1 48.4,178.9 51.6,178.9 54.7,181.2 57.8,186.0 60.9,192.3 64.1,189.9 67.2,185.2 70.3,180.5 73.4,178.1 76.6,173.4 79.7,175.7 82.8,182.0 85.9,189.1 89.1,193.0 92.2,192.3 95.3,188.3 98.4,182.0 101.6,183.6 104.7,187.5 107.8,190.7 111.0,195.4 114.1,200.1 117.2,202.5 120.3,203.3 123.5,205.6 126.6,207.2 129.7,209.6 132.8,212.3 136.0,214.1 139.1,214.2 142.2,211.9 145.3,209.0 148.5,204.3 151.6,198.8 154.7,191.7 157.8,183.4 161.0,177.0 164.1,170.4 167.2,169.6 170.3,159.3 173.5,154.6 176.6,154.6 179.7,150.3 182.8,145.2 186.0,140.5 189.1,134.2 192.2,131.8 195.3,129.4 198.5,123.4 201.6,121.5 204.7,120.7 207.8,115.1 211.0,112.7 214.1,108.8 217.2,106.4 220.3,104.8 223.5,101.7 226.6,102.5 229.7,105.6 232.9,106.4 236.0,104.8 239.1,95.8 242.2,86.0 245.4,77.7 248.5,71.0 251.6,66.3 254.7,64.1 257.9,84.2 261.0,120.8 264.1,152.5 267.2,163.0 270.4,176.5 273.5,190.7 276.6,196.2 279.7,202.5 282.9,207.2 286.0,210.4 289.1,215.1 292.2,216.6 295.4,215.9 298.5,217.4 301.6,218.2 304.7,215.9 307.9,218.2 311.0,219.8 314.1,221.4 317.2,222.2 320.4,223.7 323.5,219.8 326.6,219.0 329.7,215.9 332.9,210.4 336.0,206.4 339.1,202.5 342.2,199.3 345.4,196.2 348.5,193.8 351.6,186.1 354.8,181.5 357.9,175.6 361.0,174.8 364.1,175.0 367.3,172.5 370.4,172.5 373.5,172.5 376.6,166.2 379.8,171.7 382.9,171.7 386.0,179.6 389.1,185.3 392.3,189.6 395.4,193.5 398.5,192.7 401.6,203.6 404.8,206.8 407.9,208.3 411.0,213.8 414.1,208.3 417.3,213.0 420.4,210.7 423.5,208.3 426.6,203.6 429.8,207.5 432.9,198.1 436.0,206.0 439.1,206.0 442.3,204.4 445.4,203.6 448.5,209.9 451.6,208.4 454.8,206.9 457.9,209.6 461.0,207.6 464.1,206.1 467.3,207.6 470.4,204.5 473.5,208.0 476.6,212.4 479.8,216.7 482.9,224.4 486.0,230.7 489.2,225.2 492.3,225.2 495.4,226.0 498.5,222.8 501.7,228.3 504.8,226.8 507.9,226.8 511.0,225.2 514.2,229.1 517.3,228.3 520.4,233.0 523.5,237.8 526.7,248.8 529.8,247.2 532.9,250.4 536.0,249.6 539.2,246.4 542.3,244.8 545.4,247.2 548.5,243.5 551.7,238.8 554.8,240.3 557.9,239.7 561.0,238.1 564.2,243.6 567.3,245.2 570.4,239.7 573.5,255.3 576.7,250.2 579.8,250.6 582.9,253.3 586.0,257.7 589.2,261.6 592.3,267.1 595.4,267.9 598.5,264.0 601.7,269.1 604.8,272.2 607.9,282.8 611.1,286.0 614.2,289.1 617.3,285.9 620.4,285.9 623.6,282.1 626.7,282.8 629.8,278.5 632.9,282.8 636.1,283.2 639.2,283.2 642.3,283.6 645.4,279.7 648.6,281.7 651.7,282.1 654.8,282.0 657.9,285.1 661.1,284.3 664.2,284.3 667.3,282.8 670.4,282.0" stroke="#000080" fill="none"/>
<path fill="#000080" d="M39.1,149.7L41.7,152.3L39.1,154.9L36.5,152.3ZM42.2,153.9L44.8,156.5L42.2,159.1L39.6,156.5ZM45.3,164.5L47.9,167.1L45.3,169.7L42.7,167.1ZM48.4,176.3L51.0,178.9L48.4,181.5L45.8,178.9ZM51.6,176.3L54.2,178.9L51.6,181.5L49.0,178.9ZM54.7,178.6L57.3,181.2L54.7,183.8L52.1,181.2ZM57.8,183.4L60.4,186.0L57.8,188.6L55.2,186.0ZM60.9,189.7L63.5,192.3L60.9,194.9L58.3,192.3ZM64.1,187.3L66.7,189.9L64.1,192.5L61.5,189.9ZM67.2,182.6L69.8,185.2L67.2,187.8L64.6,185.2ZM70.3,177.9L72.9,180.5L70.3,183.1L67.7,180.5ZM73.4,175.5L76.0,178.1L73.4,180.7L70.8,178.1ZM76.6,170.8L79.2,173.4L76.6,176.0L74.0,173.4ZM79.7,173.1L82.3,175.7L79.7,178.3L77.1,175.7ZM82.8,179.4L85.4,182.0L82.8,184.6L80.2,182.0ZM85.9,186.5L88.5,189.1L85.9,191.7L83.3,189.1ZM89.1,190.4L91.7,193.0L89.1,195.6L86.5,193.0ZM92.2,189.7L94.8,192.3L92.2,194.9L89.6,192.3ZM95.3,185.7L97.9,188.3L95.3,190.9L92.7,188.3ZM98.4,179.4L101.0,182.0L98.4,184.6L95.8,182.0ZM101.6,181.0L104.2,183.6L101.6,186.2L99.0,183.6ZM104.7,184.9L107.3,187.5L104.7,190.1L102.1,187.5ZM107.8,188.1L110.4,190.7L107.8,193.3L105.2,190.7ZM111.0,192.8L113.6,195.4L111.0,198.0L108.4,195.4ZM114.1,197.5L116.7,200.1L114.1,202.7L111.5,200.1ZM117.2,199.9L119.8,202.5L117.2,205.1L114.6,202.5ZM120.3,200.7L122.9,203.3L120.3,205.9L117.7,203.3ZM123.5,203.0L126.1,205.6L123.5,208.2L120.9,205.6ZM126.6,204.6L129.2,207.2L126.6,209.8L124.0,207.2ZM129.7,207.0L132.3,209.6L129.7,212.2L127.1,209.6ZM132.8,209.7L135.4,212.3L132.8,214.9L130.2,212.3ZM136.0,211.5L138.6,214.1L136.0,216.7L133.4,214.1ZM139.1,211.6L141.7,214.2L139.1,216.8L136.5,214.2ZM142.2,209.3L144.8,211.9L142.2,214.5L139.6,211.9ZM145.3,206.4L147.9,209.0L145.3,211.6L142.7,209.0ZM148.5,201.7L151.1,204.3L148.5,206.9L145.9,204.3ZM151.6,196.2L154.2,198.8L151.6,201.4L149.0,198.8ZM154.7,189.1L157.3,191.7L154.7,194.3L152.1,191.7ZM157.8,180.8L160.4,183.4L157.8,186.0L155.2,183.4ZM161.0,174.4L163.6,177.0L161.0,179.6L158.4,177.0ZM164.1,167.8L166.7,170.4L164.1,173.0L161.5,170.4ZM167.2,167.0L169.8,169.6L167.2,172.2L164.6,169.6ZM170.3,156.7L172.9,159.3L170.3,161.9L167.7,159.3ZM173.5,152.0L176.1,154.6L173.5,157.2L170.9,154.6ZM176.6,152.0L179.2,154.6L176.6,157.2L174.0,154.6ZM179.7,147.7L182.3,150.3L179.7,152.9L177.1,150.3ZM182.8,142.6L185.4,145.2L182.8,147.8L180.2,145.2ZM186.0,137.9L188.6,140.5L186.0,143.1L183.4,140.5ZM189.1,131.6L191.7,134.2L189.1,136.8L186.5,134.2ZM192.2,129.2L194.8,131.8L192.2,134.4L189.6,131.8ZM195.3,126.8L197.9,129.4L195.3,132.0L192.7,129.4ZM198.5,120.8L201.1,123.4L198.5,126.0L195.9,123.4ZM201.6,118.9L204.2,121.5L201.6,124.1L199.0,121.5ZM204.7,118.1L207.3,120.7L204.7,123.3L202.1,120.7ZM207.8,112.5L210.4,115.1L207.8,117.7L205.2,115.1ZM211.0,110.1L213.6,112.7L211.0,115.3L208.4,112.7ZM214.1,106.2L216.7,108.8L214.1,111.4L211.5,108.8ZM217.2,103.8L219.8,106.4L217.2,109.0L214.6,106.4ZM220.3,102.2L222.9,104.8L220.3,107.4L217.7,104.8ZM223.5,99.1L226.1,101.7L223.5,104.3L220.9,101.7ZM226.6,99.9L229.2,102.5L226.6,105.1L224.0,102.5ZM229.7,103.0L232.3,105.6L229.7,108.2L227.1,105.6ZM232.9,103.8L235.5,106.4L232.9,109.0L230.3,106.4ZM236.0,102.2L238.6,104.8L236.0,107.4L233.4,104.8ZM239.1,93.2L241.7,95.8L239.1,98.4L236.5,95.8ZM242.2,83.4L244.8,86.0L242.2,88.6L239.6,86.0ZM245.4,75.1L248.0,77.7L245.4,80.3L242.8,77.7ZM248.5,68.4L251.1,71.0L248.5,73.6L245.9,71.0ZM251.6,63.7L254.2,66.3L251.6,68.9L249.0,66.3ZM254.7,61.5L257.3,64.1L254.7,66.7L252.1,64.1ZM257.9,81.6L260.5,84.2L257.9,86.8L255.3,84.2ZM261.0,118.2L263.6,120.8L261.0,123.4L258.4,120.8ZM264.1,149.9L266.7,152.5L264.1,155.1L261.5,152.5ZM267.2,160.4L269.8,163.0L267.2,165.6L264.6,163.0ZM270.4,173.9L273.0,176.5L270.4,179.1L267.8,176.5ZM273.5,188.1L276.1,190.7L273.5,193.3L270.9,190.7ZM276.6,193.6L279.2,196.2L276.6,198.8L274.0,196.2ZM279.7,199.9L282.3,202.5L279.7,205.1L277.1,202.5ZM282.9,204.6L285.5,207.2L282.9,209.8L280.3,207.2ZM286.0,207.8L288.6,210.4L286.0,213.0L283.4,210.4ZM289.1,212.5L291.7,215.1L289.1,217.7L286.5,215.1ZM292.2,214.0L294.8,216.6L292.2,219.2L289.6,216.6ZM295.4,213.3L298.0,215.9L295.4,218.5L292.8,215.9ZM298.5,214.8L301.1,217.4L298.5,220.0L295.9,217.4ZM301.6,215.6L304.2,218.2L301.6,220.8L299.0,218.2ZM304.7,213.3L307.3,215.9L304.7,218.5L302.1,215.9ZM307.9,215.6L310.5,218.2L307.9,220.8L305.3,218.2ZM311.0,217.2L313.6,219.8L311.0,222.4L308.4,219.8ZM314.1,218.8L316.7,221.4L314.1,224.0L311.5,221.4ZM317.2,219.6L319.8,222.2L317.2,224.8L314.6,222.2ZM320.4,221.1L323.0,223.7L320.4,226.3L317.8,223.7ZM323.5,217.2L326.1,219.8L323.5,222.4L320.9,219.8ZM326.6,216.4L329.2,219.0L326.6,221.6L324.0,219.0ZM329.7,213.3L332.3,215.9L329.7,218.5L327.1,215.9ZM332.9,207.8L335.5,210.4L332.9,213.0L330.3,210.4ZM336.0,203.8L338.6,206.4L336.0,209.0L333.4,206.4ZM339.1,199.9L341.7,202.5L339.1,205.1L336.5,202.5ZM342.2,196.7L344.8,199.3L342.2,201.9L339.6,199.3ZM345.4,193.6L348.0,196.2L345.4,198.8L342.8,196.2ZM348.5,191.2L351.1,193.8L348.5,196.4L345.9,193.8ZM351.6,183.5L354.2,186.1L351.6,188.7L349.0,186.1ZM354.8,178.9L357.4,181.5L354.8,184.1L352.1,181.5ZM357.9,173.0L360.5,175.6L357.9,178.2L355.3,175.6ZM361.0,172.2L363.6,174.8L361.0,177.4L358.4,174.8ZM364.1,172.4L366.7,175.0L364.1,177.6L361.5,175.0ZM367.3,169.9L369.9,172.5L367.3,175.1L364.7,172.5ZM370.4,169.9L373.0,172.5L370.4,175.1L367.8,172.5ZM373.5,169.9L376.1,172.5L373.5,175.1L370.9,172.5ZM376.6,163.6L379.2,166.2L376.6,168.8L374.0,166.2ZM379.8,169.1L382.4,171.7L379.8,174.3L377.2,171.7ZM382.9,169.1L385.5,171.7L382.9,174.3L380.3,171.7ZM386.0,177.0L388.6,179.6L386.0,182.2L383.4,179.6ZM389.1,182.7L391.7,185.3L389.1,187.9L386.5,185.3ZM392.3,187.0L394.9,189.6L392.3,192.2L389.7,189.6ZM395.4,190.9L398.0,193.5L395.4,196.1L392.8,193.5ZM398.5,190.1L401.1,192.7L398.5,195.3L395.9,192.7ZM401.6,201.0L404.2,203.6L401.6,206.2L399.0,203.6ZM404.8,204.2L407.4,206.8L404.8,209.4L402.2,206.8ZM407.9,205.7L410.5,208.3L407.9,210.9L405.3,208.3ZM411.0,211.2L413.6,213.8L411.0,216.4L408.4,213.8ZM414.1,205.7L416.7,208.3L414.1,210.9L411.5,208.3ZM417.3,210.4L419.9,213.0L417.3,215.6L414.7,213.0ZM420.4,208.1L423.0,210.7L420.4,213.3L417.8,210.7ZM423.5,205.7L426.1,208.3L423.5,210.9L420.9,208.3ZM426.6,201.0L429.2,203.6L426.6,206.2L424.0,203.6ZM429.8,204.9L432.4,207.5L429.8,210.1L427.2,207.5ZM432.9,195.5L435.5,198.1L432.9,200.7L430.3,198.1ZM436.0,203.4L438.6,206.0L436.0,208.6L433.4,206.0ZM439.1,203.4L441.7,206.0L439.1,208.6L436.5,206.0ZM442.3,201.8L444.9,204.4L442.3,207.0L439.7,204.4ZM445.4,201.0L448.0,203.6L445.4,206.2L442.8,203.6ZM448.5,207.3L451.1,209.9L448.5,212.5L445.9,209.9ZM451.6,205.8L454.2,208.4L451.6,211.0L449.0,208.4ZM454.8,204.3L457.4,206.9L454.8,209.5L452.2,206.9ZM457.9,207.0L460.5,209.6L457.9,212.2L455.3,209.6ZM461.0,205.0L463.6,207.6L461.0,210.2L458.4,207.6ZM464.1,203.5L466.7,206.1L464.1,208.7L461.5,206.1ZM467.3,205.0L469.9,207.6L467.3,210.2L464.7,207.6ZM470.4,201.9L473.0,204.5L470.4,207.1L467.8,204.5ZM473.5,205.4L476.1,208.0L473.5,210.6L470.9,208.0ZM476.6,209.8L479.2,212.4L476.6,215.0L474.0,212.4ZM479.8,214.1L482.4,216.7L479.8,219.3L477.2,216.7ZM482.9,221.8L485.5,224.4L482.9,227.0L480.3,224.4ZM486.0,228.1L488.6,230.7L486.0,233.3L483.4,230.7ZM489.2,222.6L491.8,225.2L489.2,227.8L486.6,225.2ZM492.3,222.6L494.9,225.2L492.3,227.8L489.7,225.2ZM495.4,223.4L498.0,226.0L495.4,228.6L492.8,226.0ZM498.5,220.2L501.1,222.8L498.5,225.4L495.9,222.8ZM501.7,225.7L504.3,228.3L501.7,230.9L499.1,228.3ZM504.8,224.2L507.4,226.8L504.8,229.4L502.2,226.8ZM507.9,224.2L510.5,226.8L507.9,229.4L505.3,226.8ZM511.0,222.6L513.6,225.2L511.0,227.8L508.4,225.2ZM514.2,226.5L516.8,229.1L514.2,231.7L511.6,229.1ZM517.3,225.7L519.9,228.3L517.3,230.9L514.7,228.3ZM520.4,230.4L523.0,233.0L520.4,235.6L517.8,233.0ZM523.5,235.2L526.1,237.8L523.5,240.4L520.9,237.8ZM526.7,246.2L529.3,248.8L526.7,251.4L524.1,248.8ZM529.8,244.6L532.4,247.2L529.8,249.8L527.2,247.2ZM532.9,247.8L535.5,250.4L532.9,253.0L530.3,250.4ZM536.0,247.0L538.6,249.6L536.0,252.2L533.4,249.6ZM539.2,243.8L541.8,246.4L539.2,249.0L536.6,246.4ZM542.3,242.2L544.9,244.8L542.3,247.4L539.7,244.8ZM545.4,244.6L548.0,247.2L545.4,249.8L542.8,247.2ZM548.5,240.9L551.1,243.5L548.5,246.1L545.9,243.5ZM551.7,236.2L554.3,238.8L551.7,241.4L549.1,238.8ZM554.8,237.7L557.4,240.3L554.8,242.9L552.2,240.3ZM557.9,237.1L560.5,239.7L557.9,242.3L555.3,239.7ZM561.0,235.5L563.6,238.1L561.0,240.7L558.4,238.1ZM564.2,241.0L566.8,243.6L564.2,246.2L561.6,243.6ZM567.3,242.6L569.9,245.2L567.3,247.8L564.7,245.2ZM570.4,237.1L573.0,239.7L570.4,242.3L567.8,239.7ZM573.5,252.7L576.1,255.3L573.5,257.9L570.9,255.3ZM576.7,247.6L579.3,250.2L576.7,252.8L574.1,250.2ZM579.8,248.0L582.4,250.6L579.8,253.2L577.2,250.6ZM582.9,250.7L585.5,253.3L582.9,255.9L580.3,253.3ZM586.0,255.1L588.6,257.7L586.0,260.3L583.4,257.7ZM589.2,259.0L591.8,261.6L589.2,264.2L586.6,261.6ZM592.3,264.5L594.9,267.1L592.3,269.7L589.7,267.1ZM595.4,265.3L598.0,267.9L595.4,270.5L592.8,267.9ZM598.5,261.4L601.1,264.0L598.5,266.6L595.9,264.0ZM601.7,266.5L604.3,269.1L601.7,271.7L599.1,269.1ZM604.8,269.6L607.4,272.2L604.8,274.8L602.2,272.2ZM607.9,280.2L610.5,282.8L607.9,285.4L605.3,282.8ZM611.1,283.4L613.7,286.0L611.1,288.6L608.5,286.0ZM614.2,286.5L616.8,289.1L614.2,291.7L611.6,289.1ZM617.3,283.3L619.9,285.9L617.3,288.5L614.7,285.9ZM620.4,283.3L623.0,285.9L620.4,288.5L617.8,285.9ZM623.6,279.5L626.2,282.1L623.6,284.7L621.0,282.1ZM626.7,280.2L629.3,282.8L626.7,285.4L624.1,282.8ZM629.8,275.9L632.4,278.5L629.8,281.1L627.2,278.5ZM632.9,280.2L635.5,282.8L632.9,285.4L630.3,282.8ZM636.1,280.6L638.7,283.2L636.1,285.8L633.5,283.2ZM639.2,280.6L641.8,283.2L639.2,285.8L636.6,283.2ZM642.3,281.0L644.9,283.6L642.3,286.2L639.7,283.6ZM645.4,277.1L648.0,279.7L645.4,282.3L642.8,279.7ZM648.6,279.1L651.2,281.7L648.6,284.3L646.0,281.7ZM651.7,279.5L654.3,282.1L651.7,284.7L649.1,282.1ZM654.8,279.4L657.4,282.0L654.8,284.6L652.2,282.0ZM657.9,282.5L660.5,285.1L657.9,287.7L655.3,285.1ZM661.1,281.7L663.7,284.3L661.1,286.9L658.5,284.3ZM664.2,281.7L666.8,284.3L664.2,286.9L661.6,284.3ZM667.3,280.2L669.9,282.8L667.3,285.4L664.7,282.8ZM670.4,279.4L673.0,282.0L670.4,284.6L667.8,282.0Z"/>
<path d="M37.5,16.5H672.5V360" fill="none" stroke="#808080" stroke-width="1"/>
<path d="M37.5,16V360.5H672" fill="none" stroke="#202040" stroke-width="1.1"/>
<path d="M33,360.3H37.5M33,311.2H37.5M33,262.0H37.5M33,212.9H37.5M33,163.7H37.5M33,114.6H37.5M33,65.4H37.5M33,16.3H37.5M37.5,360.5V364.5M56.3,360.5V364.5M75.0,360.5V364.5M93.8,360.5V364.5M112.5,360.5V364.5M131.3,360.5V364.5M150.0,360.5V364.5M168.8,360.5V364.5M187.5,360.5V364.5M206.3,360.5V364.5M225.0,360.5V364.5M243.8,360.5V364.5M262.5,360.5V364.5M281.3,360.5V364.5M300.1,360.5V364.5M318.8,360.5V364.5M337.6,360.5V364.5M356.3,360.5V364.5M375.1,360.5V364.5M393.8,360.5V364.5M412.6,360.5V364.5M431.3,360.5V364.5M450.1,360.5V364.5M468.8,360.5V364.5M487.6,360.5V364.5M506.3,360.5V364.5M525.1,360.5V364.5M543.8,360.5V364.5M562.6,360.5V364.5M581.4,360.5V364.5M600.1,360.5V364.5M618.9,360.5V364.5M637.6,360.5V364.5M656.4,360.5V364.5" stroke="#202040" stroke-width="1"/>
<g font-family="Liberation Sans, sans-serif" font-size="13" fill="#000" stroke="#000" stroke-width="0.12"><text x="26" y="364.2" text-anchor="end">0%</text><text x="26" y="315.1" text-anchor="end">1%</text><text x="26" y="265.9" text-anchor="end">2%</text><text x="26" y="216.8" text-anchor="end">3%</text><text x="26" y="167.6" text-anchor="end">4%</text><text x="26" y="118.5" text-anchor="end">5%</text><text x="26" y="69.3" text-anchor="end">6%</text><text x="26" y="20.2" text-anchor="end">7%</text></g>
<g font-family="Liberation Sans, sans-serif" font-size="11.8" letter-spacing="0.7" fill="#000" stroke="#000" stroke-width="0.25"><text transform="translate(42.8,367.5) rotate(-90)" text-anchor="end">01/2003</text><text transform="translate(61.6,367.5) rotate(-90)" text-anchor="end">07/2003</text><text transform="translate(80.3,367.5) rotate(-90)" text-anchor="end">01/2004</text><text transform="translate(99.1,367.5) rotate(-90)" text-anchor="end">07/2004</text><text transform="translate(117.8,367.5) rotate(-90)" text-anchor="end">01/2005</text><text transform="translate(136.6,367.5) rotate(-90)" text-anchor="end">07/2005</text><text transform="translate(155.3,367.5) rotate(-90)" text-anchor="end">01/2006</text><text transform="translate(174.1,367.5) rotate(-90)" text-anchor="end">07/2006</text><text transform="translate(192.8,367.5) rotate(-90)" text-anchor="end">01/2007</text><text transform="translate(211.6,367.5) rotate(-90)" text-anchor="end">07/2007</text><text transform="translate(230.3,367.5) rotate(-90)" text-anchor="end">01/2008</text><text transform="translate(249.1,367.5) rotate(-90)" text-anchor="end">07/2008</text><text transform="translate(267.8,367.5) rotate(-90)" text-anchor="end">01/2009</text><text transform="translate(286.6,367.5) rotate(-90)" text-anchor="end">07/2009</text><text transform="translate(305.4,367.5) rotate(-90)" text-anchor="end">01/2010</text><text transform="translate(324.1,367.5) rotate(-90)" text-anchor="end">07/2010</text><text transform="translate(342.9,367.5) rotate(-90)" text-anchor="end">01/2011</text><text transform="translate(361.6,367.5) rotate(-90)" text-anchor="end">07/2011</text><text transform="translate(380.4,367.5) rotate(-90)" text-anchor="end">01/2012</text><text transform="translate(399.1,367.5) rotate(-90)" text-anchor="end">07/2012</text><text transform="translate(417.9,367.5) rotate(-90)" text-anchor="end">01/2013</text><text transform="translate(436.6,367.5) rotate(-90)" text-anchor="end">07/2013</text><text transform="translate(455.4,367.5) rotate(-90)" text-anchor="end">01/2014</text><text transform="translate(474.1,367.5) rotate(-90)" text-anchor="end">07/2014</text><text transform="translate(492.9,367.5) rotate(-90)" text-anchor="end">01/2015</text><text transform="translate(511.6,367.5) rotate(-90)" text-anchor="end">07/2015</text><text transform="translate(530.4,367.5) rotate(-90)" text-anchor="end">01/2016</text><text transform="translate(549.1,367.5) rotate(-90)" text-anchor="end">07/2016</text><text transform="translate(567.9,367.5) rotate(-90)" text-anchor="end">01/2017</text><text transform="translate(586.7,367.5) rotate(-90)" text-anchor="end">07/2017</text><text transform="translate(605.4,367.5) rotate(-90)" text-anchor="end">01/2018</text><text transform="translate(624.2,367.5) rotate(-90)" text-anchor="end">07/2018</text><text transform="translate(642.9,367.5) rotate(-90)" text-anchor="end">01/2019</text><text transform="translate(661.7,367.5) rotate(-90)" text-anchor="end">07/2019</text></g>
<rect x="61.5" y="254.5" width="388" height="103.5" fill="#fff" stroke="#282838" stroke-width="1"/>
<g stroke-width="1">
<path d="M105,267.5H123" stroke="#f00"/><circle cx="114.5" cy="267.5" r="2.6" fill="#f00"/>
<path d="M105,293.3H123" stroke="#663300"/><path d="M111.3,295.6L114.5,290.1L117.7,295.6Z" fill="#663300"/>
<path d="M105,319.2H123" stroke="#f0f"/><rect x="112" y="316.7" width="5" height="5" fill="#f0f"/>
<path d="M105,345.2H123" stroke="#000080"/><path d="M114.5,342.2L117.5,345.2L114.5,348.2L111.5,345.2Z" fill="#000080"/>
</g>
<g font-family="Liberation Sans, sans-serif" font-size="8.7" fill="#000" stroke="#000" stroke-width="0.1">
<text x="126" y="269.8">Fixation initiale du taux d'une durée supérieure à 10 ans</text>
<text x="126" y="295.3">Fixation initiale du taux d'une durée supérieure à 5 ans et  jusqu'à 10 ans</text>
<text x="126" y="321.7">Fixation initiale du taux d'une durée supérieure à 1 an et  jusqu'à 5 ans</text>
<text x="126" y="347.7">Taux variable et fixation initiale du taux d'une durée jusqu'à 1 an</text>
</g>
</svg>
</body></html>
